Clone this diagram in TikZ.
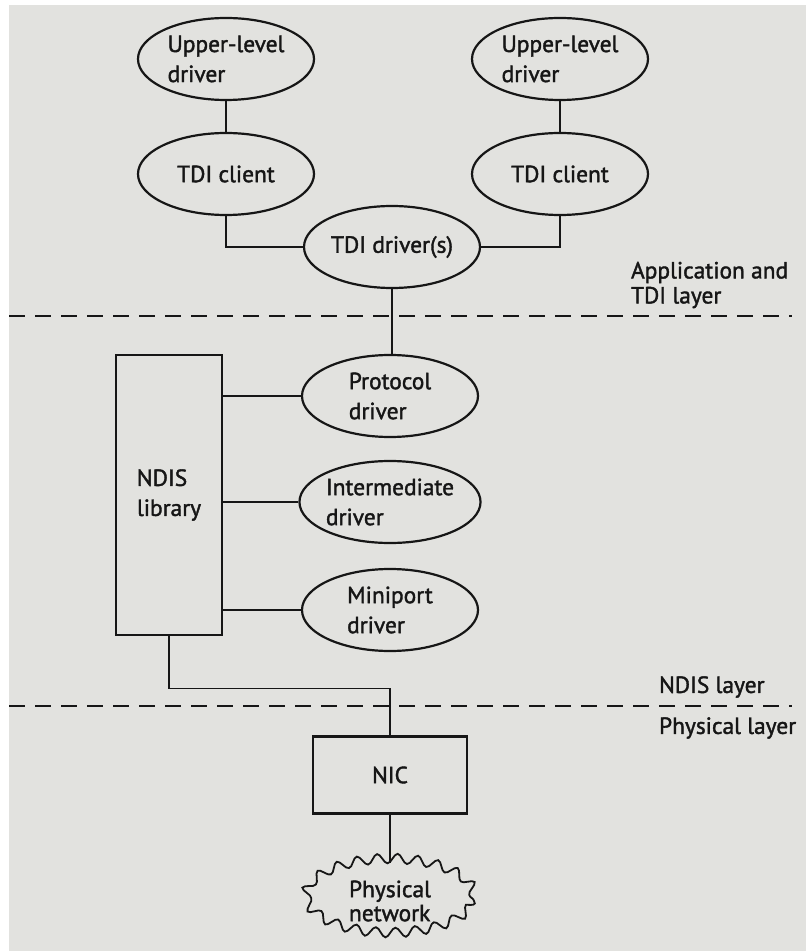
\documentclass[tikz,border=0pt]{standalone}
\usepackage{fontspec}
\setmainfont{PT Sans}
\newfontfamily\diagfont{PT Sans}[FakeBold=1.6]
\usepackage{tikz}
\usetikzlibrary{shapes.geometric}
\usetikzlibrary{decorations.pathmorphing}
\definecolor{paper}{RGB}{226,226,223}
\definecolor{ink}{RGB}{22,22,22}

\begin{document}
\begin{tikzpicture}[
    x=0.5pt, y=-0.5pt,
    driver/.style={ellipse, draw=ink, line width=1.1pt, minimum width=88pt, minimum height=41pt, inner sep=0pt, align=left, text=ink, font=\diagfont\fontsize{11.7}{15}\selectfont},
    box/.style={rectangle, draw=ink, line width=1.1pt, inner sep=0pt, align=left, text=ink, font=\diagfont\fontsize{11.7}{15}\selectfont},
    cloudbox/.style={ellipse, draw=ink, line width=0.9pt, minimum width=84pt, minimum height=37pt, inner sep=0pt, align=left, text=ink, font=\diagfont\fontsize{11.7}{12}\selectfont, decorate, decoration={snake, segment length=10pt, amplitude=2.4pt}},
    link/.style={draw=ink, line width=0.6pt},
    layersep/.style={draw=ink, line width=0.7pt, dash pattern=on 8pt off 5pt},
    layername/.style={anchor=west, align=left, text=ink, font=\diagfont\fontsize{11.7}{12.5}\selectfont}
]

% Page
\fill[white] (0,0) rectangle (806,951);
\fill[paper] (9,5) rectangle (806,951);
\useasboundingbox (0,0) rectangle (806,951);

% Define drivers
\node[driver] (up1) at (226,59) {Upper-level\\driver};
\node[driver] (up2) at (560,59) {Upper-level\\driver};
\node[driver] (cl1) at (226,174) {TDI client};
\node[driver] (cl2) at (560,174) {TDI client};
\node[driver] (tdi) at (392,247) {TDI driver(s)};
\node[driver] (proto) at (390,396) {Protocol\\driver};
\node[driver] (inter) at (390,502) {Intermediate\\driver};
\node[driver] (mini) at (390,610) {Miniport\\driver};

% Define boxes
\node[box, minimum width=53pt, minimum height=140pt] (ndis) at (169,495) {NDIS\\library};
\node[box, minimum width=77pt, minimum height=38.5pt] (nic) at (390,775) {NIC};
\node[cloudbox] (net) at (390,901) {Physical\\network};

% Define layers
\draw[layersep] (9,316) -- (792,316);
\draw[layersep] (9,706) -- (792,706);
\node[layername] (apl) at (624,285) {Application and\\TDI layer};
\node[layername] (ndl) at (652,687) {NDIS layer};
\node[layername] (phl) at (652,728) {Physical layer};

% Define edges
\draw[link] (up1) -- (cl1);
\draw[link] (up2) -- (cl2);
\draw[link] (cl1.south) |- (tdi.west);
\draw[link] (cl2.south) |- (tdi.east);
\draw[link] (tdi.south) -- (tdi.south |- proto.north);
\draw[link] (ndis.east |- proto.west) -- (proto.west);
\draw[link] (ndis.east |- inter.west) -- (inter.west);
\draw[link] (ndis.east |- mini.west) -- (mini.west);
\draw[link] (ndis.south) -- ++(0,52) -| (nic.north);
\draw[link] (nic) -- (net);

\end{tikzpicture}
\end{document}
